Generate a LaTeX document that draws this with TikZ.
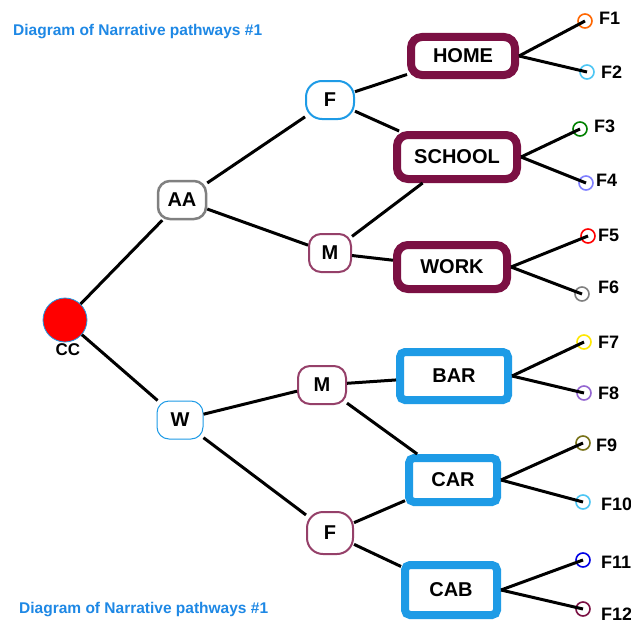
\documentclass[tikz,border=0pt]{standalone}
\usepackage{fontspec}
\setmainfont{Liberation Sans}
\definecolor{maroon}{HTML}{7B1043}
\definecolor{skyb}{HTML}{1E9BE6}
\definecolor{titleb}{HTML}{1E88E5}
\begin{document}
\begin{tikzpicture}[x=1pt,y=-1pt,
  lbl/.style={font=\bfseries\fontsize{20}{20}\selectfont},
  mid/.style={draw, rounded corners=12pt, line width=1.4pt, minimum width=46pt, minimum height=38pt, inner sep=0pt, fill=white, lbl},
  mbox/.style={draw=maroon, rounded corners=11pt, line width=8pt, fill=white, inner sep=0pt, font=\bfseries\fontsize{20}{20}\selectfont},
  bbox/.style={draw=skyb, rounded corners=5pt, line width=8pt, fill=white, inner sep=0pt, font=\bfseries\fontsize{20}{20}\selectfont},
  leaf/.style={draw, circle, line width=1.6pt, minimum size=14pt, inner sep=0pt},
  flbl/.style={font=\bfseries\fontsize{18}{18}\selectfont, inner sep=0pt},
  edge/.style={line width=3pt, black},
  title/.style={text=titleb, font=\bfseries\fontsize{15.5}{15.5}\selectfont, inner sep=0pt}
]
\useasboundingbox (0,0) rectangle (631,626);
\fill[white] (0,0) rectangle (631,626);

\node[title, anchor=west] (t1) at (13,32) {Diagram of Narrative pathways \#1};
\node[title, anchor=west] (t2) at (19,610) {Diagram of Narrative pathways \#1};

% leaves
\node[leaf, draw=orange!80!red] (f1) at (585,21) {};
\node[leaf, draw=cyan!70] (f2) at (587,72) {};
\node[leaf, draw=green!50!black] (f3) at (580,129) {};
\node[leaf, draw=blue!50] (f4) at (586,183) {};
\node[leaf, draw=red] (f5) at (588,236) {};
\node[leaf, draw=gray] (f6) at (582,294) {};
\node[leaf, draw=yellow!90!orange] (f7) at (584,342) {};
\node[leaf, draw=blue!40!violet!60] (f8) at (584,393) {};
\node[leaf, draw=olive!80!black] (f9) at (583,443) {};
\node[leaf, draw=cyan!70] (f10) at (583,502) {};
\node[leaf, draw=blue!90!black] (f11) at (583,560) {};
\node[leaf, draw=maroon] (f12) at (583,609) {};

\foreach \n/\x/\y in {1/611/18, 2/613/72, 3/606/126, 4/608/180, 5/610/235, 6/610/287, 7/610/342, 8/610/393, 9/608/445, 10/613/504, 11/613/562, 12/613/614}
  \node[flbl, anchor=west] (l\n) at (\x-12,\y) {F\n};

% nodes
\node[circle, fill=red, draw=skyb, line width=0.8pt, minimum width=44pt, inner sep=0pt] (cc) at (65,320) {};
\node[lbl, font=\bfseries\fontsize{17}{17}\selectfont] (cclbl) at (68,350) {CC};
\node[mid, draw=gray, line width=2.5pt, minimum width=48pt] (aa) at (182,200) {AA};
\node[mid, draw=skyb, line width=1pt] (w) at (180,420) {W};
\node[mid, draw=skyb, line width=2pt, rounded corners=16pt, minimum width=48pt] (fu) at (330,100) {F};
\node[mid, draw=maroon!80, line width=2pt, minimum width=42pt] (mu) at (330,253) {M};
\node[mid, draw=maroon!80, line width=2pt, minimum width=48pt] (ml) at (322,385) {M};
\node[mid, draw=maroon!80, line width=2pt, rounded corners=16pt, minimum width=46pt, minimum height=42pt] (fl) at (330,533) {F};

\node[mbox, minimum width=104pt, minimum height=38pt] (home) at (463,56) {HOME};
\node[mbox, minimum width=120pt, minimum height=44pt] (school) at (457,157) {SCHOOL};
\node[mbox, minimum width=110pt, minimum height=44pt] (work) at (452,267) {WORK};
\node[bbox, minimum width=108pt, minimum height=48pt] (bar) at (454,376) {BAR};
\node[bbox, minimum width=88pt, minimum height=44pt] (car) at (453,480) {CAR};
\node[bbox, minimum width=92pt, minimum height=50pt] (cab) at (451,590) {CAB};

% edges
\draw[edge] (cc) -- (aa);
\draw[edge] (cc) -- (w);
\draw[edge] (aa) -- (fu);
\draw[edge] (aa) -- (mu);
\draw[edge] (w) -- (ml);
\draw[edge] (w) -- (fl);
\draw[edge] (fu) -- (home);
\draw[edge] (fu) -- (school);
\draw[edge] (mu) -- (school);
\draw[edge] (mu) -- (work);
\draw[edge] (ml) -- (bar);
\draw[edge] (ml) -- (car);
\draw[edge] (fl) -- (car);
\draw[edge] (fl) -- (cab);
\foreach \s/\a/\b in {home/f1/f2, school/f3/f4, work/f5/f6, bar/f7/f8, car/f9/f10, cab/f11/f12}{
  \draw[edge] (\s.east) -- (\a.center);
  \draw[edge] (\s.east) -- (\b.center);
}
\end{tikzpicture}
\end{document}
